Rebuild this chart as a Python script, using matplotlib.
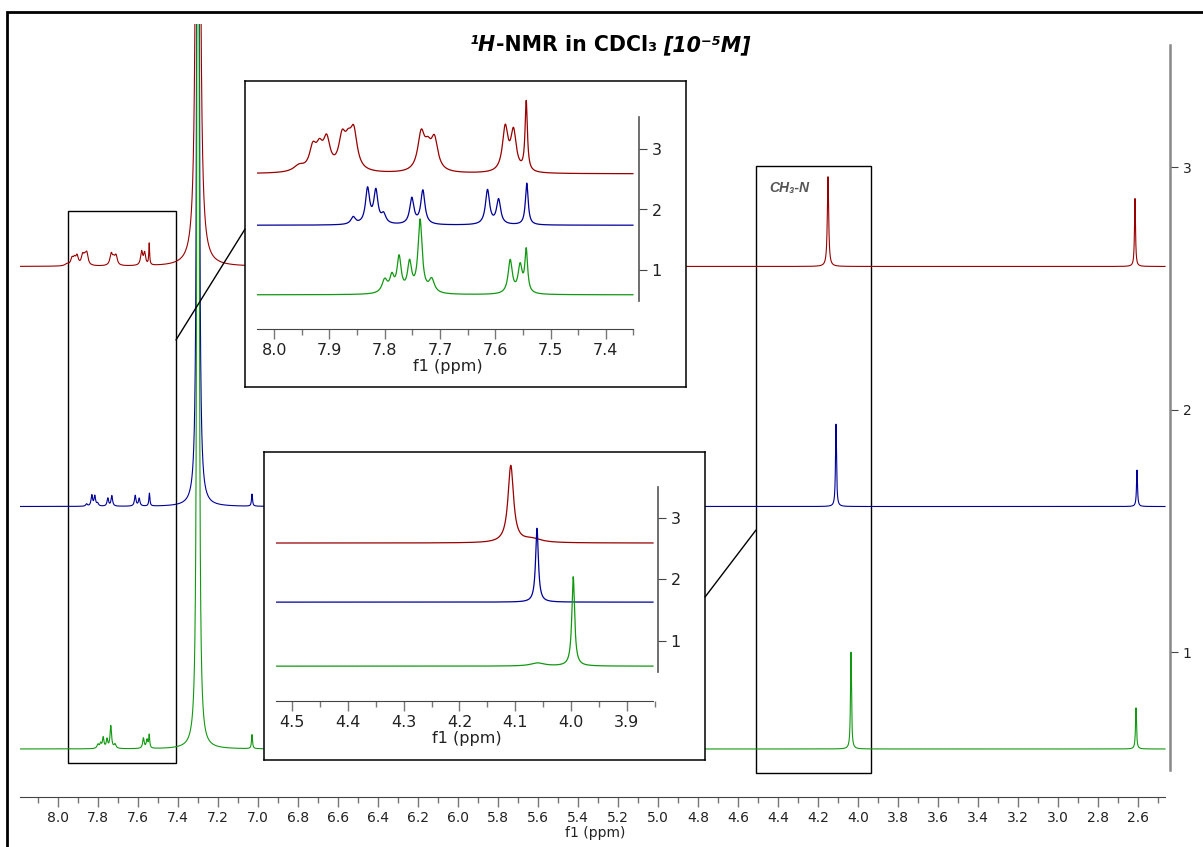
import numpy as np
import matplotlib.pyplot as plt
from matplotlib.patches import Rectangle, ConnectionPatch
from matplotlib.ticker import MultipleLocator, FormatStrFormatter

# -----------------------------------------------------------------------------
# peak tables: position (ppm), height, half width (ppm)

# aromatic multiplets, heights on the zoom-1 scale
aro_red_ppm = [7.955, 7.930, 7.918, 7.905, 7.877, 7.866, 7.856, 7.734, 7.722, 7.710, 7.582, 7.567, 7.544]
aro_red_h = [0.10, 0.36, 0.32, 0.48, 0.50, 0.34, 0.60, 0.60, 0.30, 0.50, 0.72, 0.65, 1.15]
aro_red_w = [0.012, 0.0075, 0.0075, 0.0075, 0.0075, 0.0075, 0.0075, 0.0075, 0.0075, 0.0075,
             0.006, 0.006, 0.0025]

aro_blue_ppm = [7.857, 7.831, 7.816, 7.802, 7.751, 7.731, 7.614, 7.594, 7.543]
aro_blue_h = [0.12, 0.58, 0.54, 0.15, 0.43, 0.56, 0.57, 0.41, 0.69]
aro_blue_w = [0.005, 0.0045, 0.0045, 0.005, 0.0045, 0.0045, 0.0045, 0.0045, 0.003]

aro_green_ppm = [7.800, 7.787, 7.774, 7.755, 7.736, 7.715, 7.573, 7.555, 7.544]
aro_green_h = [0.22, 0.25, 0.58, 0.48, 1.20, 0.22, 0.55, 0.45, 0.70]
aro_green_w = [0.006, 0.0045, 0.0045, 0.0045, 0.0045, 0.006, 0.0045, 0.0045, 0.003]

# N-CH3 singlets, zoom-2 scale
ch3_red_ppm = [4.108, 4.070]
ch3_red_h = [1.25, 0.06]
ch3_red_w = [0.006, 0.020]
ch3_blue_ppm = [4.061]
ch3_blue_h = [1.20]
ch3_blue_w = [0.003]
ch3_green_ppm = [3.996, 4.060]
ch3_green_h = [1.45, 0.05]
ch3_green_w = [0.003, 0.015]

# full range: solvent, 7.03, N-CH3, 2.6 singlets
full_red_ppm = [7.30, 4.15, 2.615]
full_red_h = [28.0, 0.37, 0.28]
full_red_w = [0.003, 0.004, 0.003]
full_blue_ppm = [7.30, 7.03, 4.11, 2.605]
full_blue_h = [28.0, 0.05, 0.34, 0.15]
full_blue_w = [0.002, 0.003, 0.003, 0.003]
full_green_ppm = [7.30, 7.03, 4.035, 2.61]
full_green_h = [28.0, 0.058, 0.40, 0.17]
full_green_w = [0.002, 0.003, 0.003, 0.003]

full_base = [2.59, 1.60, 0.60]
aro_base = [2.59, 1.74, 0.59]
ch3_base = [2.59, 1.63, 0.59]
aro_gain = 1 / 13.0   # zoom-1 heights -> full-range heights

colors = ['#990000', '#000099', '#119911']


def lorentz(x, ppm, h, w):
    y = np.zeros_like(x)
    for p, a, g in zip(ppm, h, w):
        y += a * g**2 / ((x - p)**2 + g**2)
    return y


W, H = 1203, 847
def px(x0, y0, x1, y1):
    return [x0 / W, 1 - y1 / H, (x1 - x0) / W, (y1 - y0) / H]


def style_axis(a, lsize, ybounds, xbounds, vcol, vlw):
    for s in ['left', 'top']:
        a.spines[s].set_visible(False)
    a.spines['right'].set_bounds(*ybounds)
    a.spines['right'].set_color(vcol)
    a.spines['right'].set_linewidth(vlw)
    a.spines['bottom'].set_bounds(*xbounds)
    a.spines['bottom'].set_color('#444444')
    a.yaxis.tick_right()
    a.set_yticks([1, 2, 3])
    a.tick_params(axis='y', direction='out', length=6, color='#444444',
                  labelsize=lsize, labelcolor='#222222', pad=3)
    a.tick_params(axis='x', which='major', direction='out', length=7, width=1,
                  color='#777777', labelsize=lsize, labelcolor='#222222', pad=3)
    a.tick_params(axis='x', which='minor', direction='out', length=4, width=1,
                  color='#777777')
    a.xaxis.set_major_formatter(FormatStrFormatter('%.1f'))
    a.set_xlabel('f1 (ppm)', fontsize=lsize, color='#222222', labelpad=1)


fig = plt.figure(figsize=(12.03, 8.47), dpi=100)

# -----------------------------------------------------------------------------
# full spectrum
ax = fig.add_axes(px(20, 24, 1170, 797))
xx = np.linspace(8.19, 2.465, 20000)
full = [(full_red_ppm, full_red_h, full_red_w), (full_blue_ppm, full_blue_h, full_blue_w),
        (full_green_ppm, full_green_h, full_green_w)]
aro = [(aro_red_ppm, aro_red_h, aro_red_w), (aro_blue_ppm, aro_blue_h, aro_blue_w),
       (aro_green_ppm, aro_green_h, aro_green_w)]
ch3 = [(ch3_red_ppm, ch3_red_h, ch3_red_w), (ch3_blue_ppm, ch3_blue_h, ch3_blue_w),
       (ch3_green_ppm, ch3_green_h, ch3_green_w)]
for i in range(3):
    yy = full_base[i] + lorentz(xx, *full[i]) + aro_gain * lorentz(xx, *aro[i])
    ax.plot(xx, yy, color=colors[i], lw=0.8)
ax.set_xlim(8.19, 2.44); ax.set_ylim(0.402, 3.59)
ax.xaxis.set_major_locator(MultipleLocator(0.2))
ax.xaxis.set_minor_locator(MultipleLocator(0.1))
style_axis(ax, 10, (0.513, 3.503), (8.19, 2.465), '#888888', 1.8)

# boxed regions
ax.add_patch(Rectangle((7.41, 0.542), 0.54, 2.277, fill=False, ec='k', lw=1))
ax.add_patch(Rectangle((3.935, 0.501), 0.575, 2.503, fill=False, ec='k', lw=1))
ax.text(4.445, 2.913, 'CH₃-N', family=['Liberation Sans', 'DejaVu Sans'],
        style='italic', weight='bold', fontsize=10, color='#555555', va='center')

# title, built from pieces so the italic parts stay italic
title_parts = [('¹H', 'italic'), ('-NMR in CDCl₃', 'normal'), ('[10⁻⁵M]', 'italic')]
t0 = prev = None
for s, st in title_parts:
    kw = dict(family='DejaVu Sans', weight='bold', style=st, fontsize=14.8,
              va='bottom', ha='left', annotation_clip=False)
    if t0 is None:
        t0 = prev = ax.annotate(s, xy=(470 / W, 1 - 55 / H), xycoords='figure fraction', **kw)
    else:
        gap = 4 if st == 'italic' else 0
        prev = ax.annotate(s, xy=(1, 0), xycoords=(prev, t0), xytext=(gap, 0),
                           textcoords='offset points', **kw)

# -----------------------------------------------------------------------------
# zoom 1: aromatic region
f1 = fig.add_axes(px(245, 81, 686, 387), zorder=3)
a1 = fig.add_axes(px(257, 90, 639, 329), zorder=4)
x1 = np.linspace(8.031, 7.351, 4000)
for i in range(3):
    a1.plot(x1, aro_base[i] + lorentz(x1, *aro[i]), color=colors[i], lw=0.9)
a1.set_xlim(8.031, 7.340); a1.set_ylim(0.025, 3.975)
a1.xaxis.set_major_locator(MultipleLocator(0.1))
a1.xaxis.set_minor_locator(MultipleLocator(0.05))
style_axis(a1, 11.5, (0.488, 3.529), (8.031, 7.351), '#555555', 1.2)

# zoom 2: N-CH3 region
f2 = fig.add_axes(px(264, 452, 705, 760), zorder=3)
a2 = fig.add_axes(px(276, 455, 658, 701), zorder=4)
x2 = np.linspace(4.529, 3.853, 4000)
for i in range(3):
    a2.plot(x2, ch3_base[i] + lorentz(x2, *ch3[i]), color=colors[i], lw=0.9)
a2.set_xlim(4.529, 3.844); a2.set_ylim(0.024, 4.02)
a2.xaxis.set_major_locator(MultipleLocator(0.1))
a2.xaxis.set_minor_locator(MultipleLocator(0.05))
style_axis(a2, 11.5, (0.496, 3.504), (4.529, 3.853), '#555555', 1.2)

for f in [f1, f2]:
    f.set_xticks([]); f.set_yticks([])
    for s in f.spines.values():
        s.set_color('k'); s.set_linewidth(1.1)
for a in [a1, a2]:
    a.patch.set_alpha(0)

con1 = ConnectionPatch(xyA=(7.41, 2.287), coordsA='data', axesA=ax,
                       xyB=(0, 0.516), coordsB='axes fraction', axesB=f1, color='k', lw=1)
con2 = ConnectionPatch(xyA=(4.51, 1.503), coordsA='data', axesA=ax,
                       xyB=(1, 0.529), coordsB='axes fraction', axesB=f2, color='k', lw=1)
for c in [con1, con2]:
    c.set_zorder(5)
    fig.add_artist(c)

# page frame
fig.add_artist(Rectangle((7 / W, -0.5), 1.0, 1.5 - 12 / H, fill=False, ec='k', lw=2,
                         transform=fig.transFigure, clip_on=False))

fig.savefig('out.png', dpi=100)
